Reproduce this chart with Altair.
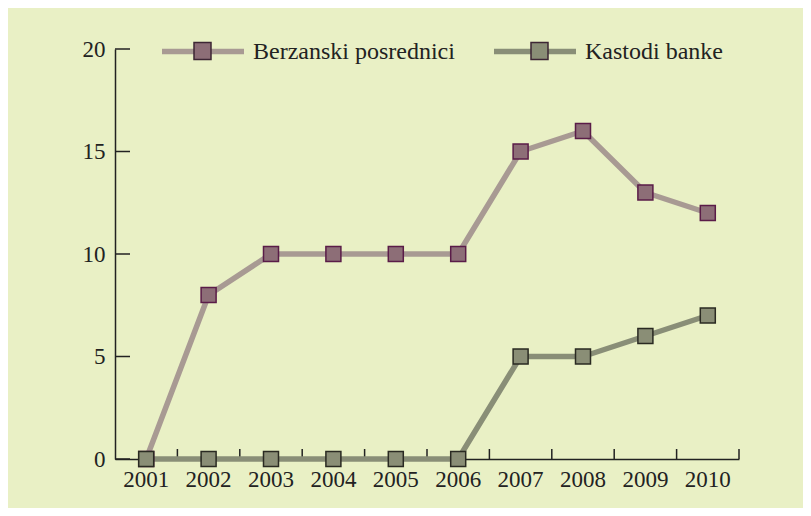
import altair as alt
import pandas as pd

years = ["2001", "2002", "2003", "2004", "2005", "2006", "2007", "2008", "2009", "2010"]
series_names = ["Berzanski posrednici", "Kastodi banke"]
berzanski = [0, 8, 10, 10, 10, 10, 15, 16, 13, 12]
kastodi = [0, 0, 0, 0, 0, 0, 5, 5, 6, 7]
y_ticks = [0, 5, 10, 15, 20]

line_colors = ["#a89a93", "#898e77"]
fill_colors = ["#8d6e77", "#8a8e76"]
edge_colors = ["#5a1c48", "#2a2a22"]
BG = "#e9f0c5"
FONT = "Liberation Serif"
FS = 23
W, H = 624, 410

rows = []
for name, vals in zip(series_names, [berzanski, kastodi]):
    for yr, v in zip(years, vals):
        rows.append({"year": yr, "value": v, "series": name, "kind": name})
df = pd.DataFrame(rows)
ydf = pd.DataFrame({"t": y_ticks})
xdf = pd.DataFrame({"year": years})

xscale = alt.Scale(type="band", domain=years, paddingInner=0, paddingOuter=0)
yscale = alt.Scale(domain=[0, 20], nice=False)

xaxis = alt.Axis(title=None, ticks=False, labelAngle=0, labelFont=FONT, labelFontSize=FS,
                 labelColor="#222222", labelPadding=9, domainColor="#222222", domainWidth=1.5,
                 grid=False)
yaxis = alt.Axis(title=None, ticks=False, values=y_ticks, labelFont=FONT, labelFontSize=FS,
                 labelColor="#222222", labelPadding=10, domainColor="#222222", domainWidth=1.5,
                 grid=False)

X = alt.X("year:O", scale=xscale, axis=xaxis, bandPosition=0.5)
Y = alt.Y("value:Q", scale=yscale, axis=yaxis)

L1X, L1Y = 44, -41.5
L2X, L2Y = 78, -7.5

lines = alt.Chart(df).mark_line(strokeWidth=5.5, strokeCap="round", strokeJoin="round").encode(
    x=X, y=Y,
    color=alt.Color("series:N", sort=series_names,
                    scale=alt.Scale(range=line_colors),
                    legend=alt.Legend(orient="none", legendX=L1X, legendY=L1Y, direction="horizontal",
                                      title=None, symbolType="stroke", symbolSize=82 * 82,
                                      symbolStrokeWidth=5.5, labelFont=FONT, labelFontSize=24,
                                      labelColor="#222222", labelOffset=6, columnPadding=28,
                                      labelLimit=0, zindex=1)),
    detail="series:N",
)

points = alt.Chart(df).mark_point(shape="square", filled=True, size=225, strokeWidth=1.5, opacity=1).encode(
    x=X, y=Y,
    fill=alt.Fill("kind:N", sort=series_names,
                  scale=alt.Scale(range=fill_colors),
                  legend=alt.Legend(orient="none", legendX=L2X, legendY=L2Y, direction="horizontal",
                                    title=None, symbolType="square", symbolSize=17 * 17,
                                    symbolStrokeWidth=1.5, symbolStrokeColor="#3d2634",
                                    symbolOpacity=1, labelExpr="''", labelFontSize=1,
                                    labelOffset=0, columnPadding=314,
                                    labelLimit=0, zindex=2)),
    stroke=alt.Stroke("kind:N", sort=series_names,
                      scale=alt.Scale(range=edge_colors), legend=None),
)

ytick_rules = alt.Chart(ydf).mark_rule(color="#222222", strokeWidth=1.5).encode(
    y=alt.Y("t:Q", scale=yscale, axis=yaxis),
    x=alt.value(0), x2=alt.value(15),
)

xtick_rules = alt.Chart(xdf).mark_rule(color="#222222", strokeWidth=1.5).encode(
    x=alt.X("year:O", scale=xscale, axis=xaxis, bandPosition=1),
    y=alt.value(H), y2=alt.value(H - 10),
)

chart = alt.layer(ytick_rules, xtick_rules, lines, points).properties(
    width=W, height=H,
    background=BG,
    autosize=alt.AutoSizeParams(type="none"),
    padding={"left": 107, "top": 41, "right": 64, "bottom": 49},
).configure_view(stroke=None, fill=BG)

chart.save("out.html", embed_options={"renderer": "svg", "actions": False})
